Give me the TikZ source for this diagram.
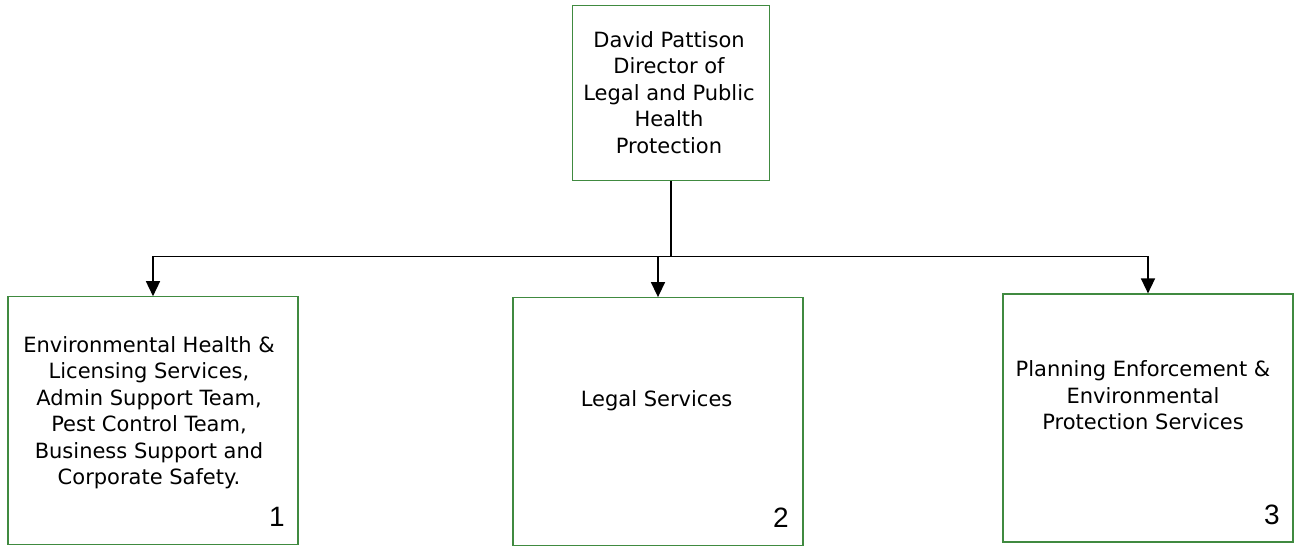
\documentclass[tikz,border=0pt]{standalone}
\usepackage{fontspec}
\setmainfont{DejaVu Sans}
\newfontfamily\numfont{Liberation Sans}
\usepackage{xcolor}
\usetikzlibrary{calc, positioning, arrows.meta}
\definecolor{boxgreen}{RGB}{64,138,64}
\tikzset{
    unit/.style={draw=boxgreen, line width=1.2pt, minimum width=290pt, minimum height=248pt, inner sep=0pt},
    txt/.style={align=center, inner sep=0pt, font=\fontsize{21}{26.5}\selectfont},
    num/.style={anchor=base, inner sep=0pt, font=\numfont\fontsize{28}{32}\selectfont},
    link/.style={line width=1.5pt, -{Triangle[width=14pt,length=15pt]}}
}

\begin{document}
\begin{tikzpicture}[x=1pt, y=-1pt]
    \useasboundingbox (0,0) rectangle (1299,546);
    \node[unit, minimum width=197pt, minimum height=175pt] (dir) at (671,93.3) {};
    \node[txt] (dirtxt) at (669,92.5) {David Pattison\\Director of\\Legal and Public\\Health\\Protection};
    \node[unit] (ehl) at (153,420.8) {};
    \node[unit] (legal) at (658,421.7) {};
    \node[unit] (pees) at (1148,418) {};
    \node[txt] (ehltxt) at (149,412.5) {Environmental Health \&\\Licensing Services,\\Admin Support Team,\\Pest Control Team,\\Business Support and\\Corporate Safety.};
    \node[txt] (legaltxt) at (656.6,400.5) {Legal Services};
    \node[txt] (peestxt) at (1143,395.2) {Planning Enforcement \&\\Environmental\\Protection Services};
    \node[num] (n1) at (277,526.7) {1};
    \node[num] (n2) at (781,527.3) {2};
    \node[num] (n3) at (1272,524) {3};
    \coordinate (jn) at ($(dir.south)+(0,75)$);
    \draw[line width=1.5pt] (dir.south) -- (jn);
    \draw[link] (jn) -| (ehl.north);
    \draw[link] (jn) -| (pees.north);
    \draw[link] (jn -| legal.north) -- (legal.north);
\end{tikzpicture}
\end{document}
